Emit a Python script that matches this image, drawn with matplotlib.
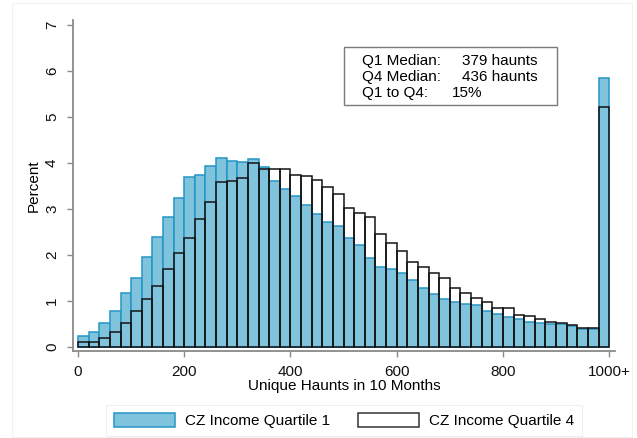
import matplotlib
matplotlib.use("Agg")
import matplotlib.pyplot as plt
from matplotlib.patches import Patch, Rectangle

plt.rcParams["font.family"] = ["Liberation Sans", "DejaVu Sans"]

# histogram bins: width 20, last bin holds 1000+
bin_width = 20
bin_left = list(range(0, 1000, bin_width))

q1_pct = [0.25, 0.32, 0.53, 0.78, 1.17, 1.51, 1.96, 2.39, 2.83, 3.24,
          3.70, 3.73, 3.94, 4.12, 4.05, 4.02, 4.09, 3.91, 3.61, 3.44,
          3.29, 3.09, 2.90, 2.71, 2.64, 2.37, 2.23, 1.93, 1.75, 1.69,
          1.60, 1.46, 1.28, 1.15, 1.05, 0.98, 0.94, 0.91, 0.78, 0.72,
          0.66, 0.62, 0.54, 0.52, 0.50, 0.50, 0.46, 0.39, 0.39, 5.86]
q4_pct = [0.12, 0.12, 0.20, 0.33, 0.52, 0.78, 1.05, 1.32, 1.70, 2.04,
          2.38, 2.79, 3.16, 3.59, 3.61, 3.67, 4.00, 3.87, 3.88, 3.88,
          3.74, 3.71, 3.64, 3.48, 3.33, 3.03, 2.91, 2.82, 2.46, 2.26,
          2.09, 1.86, 1.75, 1.62, 1.51, 1.29, 1.17, 1.07, 0.98, 0.86,
          0.86, 0.70, 0.68, 0.60, 0.55, 0.53, 0.49, 0.41, 0.41, 5.22]

x_ticks = [0, 200, 400, 600, 800, 1000]
x_tick_labels = ["0", "200", "400", "600", "800", "1000+"]
y_ticks = [0, 1, 2, 3, 4, 5, 6, 7]

series_names = ["CZ Income Quartile 1", "CZ Income Quartile 4"]
stats_labels = ["Q1 Median:", "Q4 Median:", "Q1 to Q4:"]
stats_values = ["379 haunts", "436 haunts", "15%"]

BLUE_FILL = "#80c3dc"
BLUE_EDGE = "#2396c6"
DARK_EDGE = "#141414"
AXIS_GREY = "#8a8a8a"

W, H = 637, 438
fig = plt.figure(figsize=(W / 100, H / 100), dpi=100)
fig.patch.set_facecolor("white")

# faint outer frame of the graph region
fig.add_artist(Rectangle((12 / W, 1 - 437 / H), 620 / W, 434 / H, transform=fig.transFigure,
                         fill=False, edgecolor="#f2f2f2", lw=0.8))

ax = fig.add_axes([72.7 / W, 87 / H, 542.3 / W, 331 / H])
ax.bar(bin_left, q1_pct, width=bin_width, align="edge",
       facecolor=BLUE_FILL, edgecolor=BLUE_EDGE, linewidth=1.1, zorder=2)
ax.bar(bin_left, q4_pct, width=bin_width, align="edge",
       fill=False, edgecolor=DARK_EDGE, linewidth=1.1, zorder=3)

ax.set_xlim(-10, 1011)
ax.set_ylim(-0.085, 7.11)
ax.set_xticks(x_ticks)
ax.set_xticklabels(x_tick_labels)
ax.set_yticks(y_ticks)
for lab in ax.get_yticklabels():
    lab.set_rotation(90)
    lab.set_va("center")

for side in ("top", "right"):
    ax.spines[side].set_visible(False)
for side in ("left", "bottom"):
    ax.spines[side].set_color(AXIS_GREY)
    ax.spines[side].set_linewidth(1.3)
ax.tick_params(axis="both", direction="out", length=4.3, width=1.0, color=AXIS_GREY,
               labelsize=11, labelcolor="#111111")
ax.tick_params(axis="x", pad=5.5)
ax.tick_params(axis="y", pad=5.5)

ax.set_ylabel("Percent", fontsize=11, labelpad=3)
ax.set_xlabel("Unique Haunts in 10 Months", fontsize=11, labelpad=0)

# stats box in top-right
fig.add_artist(Rectangle((344 / W, 1 - 105 / H), 213 / W, 58 / H, transform=fig.transFigure,
                         facecolor="white", edgecolor="#7a7a7a", lw=1.0, zorder=5))
line_y = [61, 77, 93]
for i, (lab, val) in enumerate(zip(stats_labels, stats_values)):
    yy = 1 - line_y[i] / H
    fig.text(362 / W, yy, lab, fontsize=11, va="center", ha="left", zorder=6)
    if i < 2:
        fig.text(538 / W, yy, val, fontsize=11, va="center", ha="right", zorder=6)
    else:
        fig.text(452 / W, yy, val, fontsize=11, va="center", ha="left", zorder=6)

handles = [Patch(facecolor=BLUE_FILL, edgecolor=BLUE_EDGE, linewidth=1.1),
           Patch(facecolor="white", edgecolor="#333333", linewidth=1.1)]
leg = fig.legend(handles, series_names, loc="center", bbox_to_anchor=(344 / W, 1 - 420.5 / H),
                 ncol=2, fontsize=11, frameon=True, fancybox=False,
                 handlelength=4.0, handleheight=1.0, handletextpad=0.65,
                 columnspacing=1.8, borderpad=0.55)
leg.get_frame().set_edgecolor("#ececec")
leg.get_frame().set_linewidth(0.8)

fig.savefig("out.png", dpi=100, facecolor="white")
